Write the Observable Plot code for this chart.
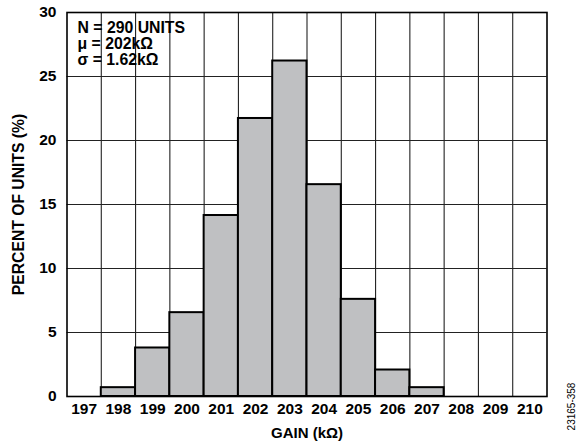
<!DOCTYPE html>
<html>
<head>
<meta charset="utf-8">
<script src="https://cdn.jsdelivr.net/npm/d3@7"></script>
<script src="https://cdn.jsdelivr.net/npm/@observablehq/plot@0.6"></script>
<style>
  html, body { margin: 0; padding: 0; background: #fff; }
  #chart { width: 576px; height: 442px; }
</style>
</head>
<body>
<div id="chart"></div>
<script>
// ---- data ----
const gainBins = [197, 198, 199, 200, 201, 202, 203, 204, 205, 206, 207, 208, 209, 210]; // x tick labels (kΩ)
const gain     = [198, 199, 200, 201, 202, 203, 204, 205, 206, 207];                     // populated bins
const percent  = [0.69, 3.79, 6.55, 14.14, 21.72, 26.21, 16.55, 7.59, 2.07, 0.69];        // % of units
const yTicks   = [0, 5, 10, 15, 20, 25, 30];
const noteLines = ["N = 290 UNITS", "μ = 202kΩ", "σ = 1.62kΩ"];
const xTitle = "GAIN (kΩ)";
const yTitle = "PERCENT OF UNITS (%)";
const figId = "23165-358";

const bars = gain.map((g, i) => ({g, p: percent[i]}));
const edges = gainBins.slice(0, -1).map(b => b + 0.5);
const gridY = yTicks.slice(1, -1);

const font = "'Liberation Sans', Arial, Helvetica, sans-serif";

const chart = Plot.plot({
  width: 576,
  height: 442,
  marginLeft: 66.5,
  marginRight: 29.5,
  marginTop: 12,
  marginBottom: 46,
  style: {fontFamily: font, fontSize: "15.5px", fontWeight: "bold", color: "#000", background: "#fff"},
  x: {domain: [gainBins[0] - 0.5, gainBins[gainBins.length - 1] + 0.5]},
  y: {domain: [0, 30]},
  marks: [
    Plot.ruleX(edges, {stroke: "#222", strokeWidth: 1.1}),
    Plot.ruleY(gridY, {stroke: "#222", strokeWidth: 1.1}),
    Plot.rectY(bars, {x1: d => d.g - 0.5, x2: d => d.g + 0.5, y1: 0, y2: "p", fill: "#bfc0c2", stroke: "#000", strokeWidth: 2}),
    Plot.axisX({ticks: gainBins, tickSize: 0, tickPadding: 6.5, tickFormat: d => String(d), label: null, fontSize: 15.5, fontWeight: "bold"}),
    Plot.axisY({ticks: yTicks, tickSize: 0, tickPadding: 10.5, label: null, fontSize: 15.5, fontWeight: "bold"}),
    Plot.text([noteLines.join("\n")], {frameAnchor: "top-left", dx: 10.5, dy: 8.5, lineAnchor: "top", textAnchor: "start", lineHeight: 1.03, fontSize: 15.8, fontWeight: "bold", fill: "#000", ariaLabel: "note"}),
    Plot.frame({stroke: "#000", strokeWidth: 1.6}),
    Plot.text([xTitle], {frameAnchor: "bottom", dy: 37, lineAnchor: "middle", textAnchor: "middle", fontSize: 15, fontWeight: "bold", fill: "#000"}),
    Plot.text([yTitle], {frameAnchor: "left", dx: -48.5, rotate: -90, lineAnchor: "middle", textAnchor: "middle", fontSize: 15.7, fontWeight: "bold", fill: "#000"}),
    Plot.text([figId], {frameAnchor: "bottom-right", dx: 25, dy: 10, rotate: -90, lineAnchor: "middle", textAnchor: "middle", fontSize: 10, fontWeight: "normal", fill: "#000", ariaLabel: "figid"})
  ]
});

document.getElementById("chart").appendChild(chart);

// stretch the figure id a little, as in the reference
const fid = chart.querySelector('g[aria-label="figid"] text');
if (fid) fid.setAttribute("letter-spacing", "1.6");

// white box behind the statistics note, sized from the rendered text
const note = chart.querySelector('g[aria-label="note"]');
if (note) {
  const bb = note.getBBox();
  const frameLeft = 66.5 + 1;
  const rect = document.createElementNS("http://www.w3.org/2000/svg", "rect");
  rect.setAttribute("x", frameLeft);
  rect.setAttribute("y", bb.y - 1);
  rect.setAttribute("width", bb.x + bb.width + 2 - frameLeft);
  rect.setAttribute("height", bb.height + 2);
  rect.setAttribute("fill", "#fff");
  note.parentNode.insertBefore(rect, note);
}
</script>
</body>
</html>
